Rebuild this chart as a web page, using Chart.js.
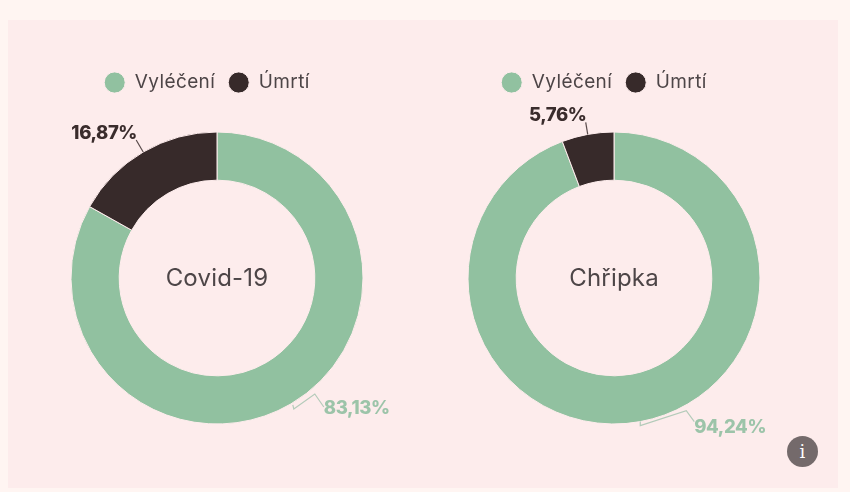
<!DOCTYPE html>
<html lang="cs"><head><meta charset="utf-8">
<script src="https://cdn.jsdelivr.net/npm/chart.js@4"></script>
<style>
html,body{margin:0;padding:0;width:850px;height:492px;overflow:hidden;background:#fff5f2}
#panel{position:absolute;left:8px;top:20px;width:830px;height:468px;background:#fdecec}
canvas{position:absolute}
#info{position:absolute;left:787px;top:436px;width:31px;height:31px;border-radius:50%;background:#746a6b;color:#fff;font:18px/31px "DejaVu Serif",serif;text-align:center}
</style></head><body>
<div id="panel"></div>
<canvas id="c1" style="left:20px;top:60px;width:394px;height:400px"></canvas>
<canvas id="c2" style="left:417px;top:60px;width:394px;height:400px"></canvas>
<div id="info">i</div>
<script>
const categories = ["Vyléčení", "Úmrtí"];
const covidValues = [83.13, 16.87];
const fluValues = [94.24, 5.76];
const chartTitles = ["Covid-19", "Chřipka"];
const sliceColors = ["#91c1a0", "#372a2a"];
const labelColors = ["#9cc4a9", "#3a2c2c"];
const FONT = 'Inter, "Open Sans", sans-serif';
const fmt = v => v.toFixed(2).replace(".", ",") + "%";

// leader geometry relative to each slice's outer-edge midpoint (px)
const covidLeaders = [
  {path:[[2,1],[3,5],[24,-10],[33,3]], text:[33,4], align:"left"},
  {path:[[0,0],[-7,-12]], text:[-39,-19], align:"center"}
];
const fluLeaders = [
  {path:[[0,0],[0,4],[46,-11],[54,0]], text:[54,6], align:"left"},
  {path:[[0,0],[-2,-12]], text:[-30,-19], align:"center"}
];

const doughnutExtras = {
  id:"doughnutExtras",
  beforeLayout(chart){ chart.ctx.letterSpacing = "0.4px"; },
  afterLayout(chart){ const l = chart.legend; l.left -= 10; l.right -= 10; },
  afterDatasetsDraw(chart, _a, o){
    const ctx = chart.ctx, arcs = chart.getDatasetMeta(0).data;
    const vals = chart.data.datasets[0].data;
    ctx.save();
    arcs.forEach((arc,i)=>{
      const mid = (arc.startAngle+arc.endAngle)/2;
      const px = arc.x+Math.cos(mid)*arc.outerRadius, py = arc.y+Math.sin(mid)*arc.outerRadius;
      const L = o.leaders[i];
      ctx.strokeStyle = i===0 ? "#b4cbba" : "#5a4c4c";
      ctx.lineWidth = 1.2;
      ctx.beginPath();
      L.path.forEach((p,k)=> k ? ctx.lineTo(px+p[0],py+p[1]) : ctx.moveTo(px+p[0],py+p[1]));
      ctx.stroke();
      ctx.letterSpacing = "-0.4px";
      ctx.font = "800 18.5px "+FONT;
      ctx.fillStyle = labelColors[i];
      ctx.textAlign = L.align; ctx.textBaseline = "middle";
      ctx.fillText(fmt(vals[i]), px+L.text[0], py+L.text[1]);
    });
    ctx.letterSpacing = "0.2px";
    ctx.font = "400 24px "+FONT;
    ctx.fillStyle = "#4d4547";
    ctx.textAlign = "center"; ctx.textBaseline = "middle";
    ctx.fillText(o.title, arcs[0].x, arcs[0].y+1);
    ctx.restore();
  }
};

function build(id, values, title, leaders){
  return new Chart(document.getElementById(id), {
    type:"doughnut",
    data:{labels:categories, datasets:[{data:values, backgroundColor:sliceColors, borderColor:"#fdecec", borderWidth:1, radius:146, cutout:"67%"}]},
    plugins:[doughnutExtras],
    options:{
      responsive:false, animation:false, devicePixelRatio:1,
      layout:{padding:{top:0,bottom:6,left:0,right:0}},
      plugins:{
        tooltip:{enabled:false},
        doughnutExtras:{title, leaders},
        legend:{position:"top", labels:{usePointStyle:true, pointStyle:"circle", pointStyleWidth:21, boxHeight:15, padding:13,
          color:"#4d4547", font:{family:FONT, size:19, weight:"400"}}}
      }
    }
  });
}
build("c1", covidValues, chartTitles[0], covidLeaders);
build("c2", fluValues, chartTitles[1], fluLeaders);
</script></body></html>
